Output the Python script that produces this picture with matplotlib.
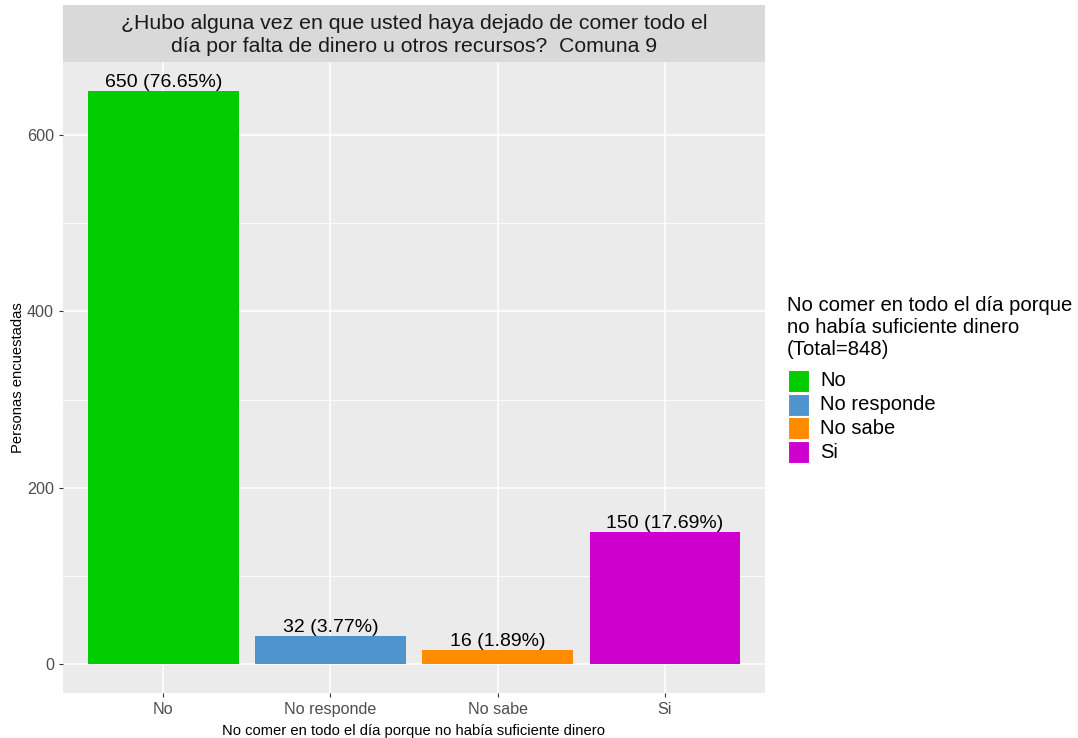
import matplotlib
matplotlib.use("Agg")
import matplotlib.pyplot as plt
from matplotlib.patches import Rectangle

plt.rcParams['font.family'] = ['Liberation Sans', 'DejaVu Sans']

categories = ["No", "No responde", "No sabe", "Si"]
counts = [650, 32, 16, 150]
labels = ["650 (76.65%)", "32 (3.77%)", "16 (1.89%)", "150 (17.69%)"]
colors = ["#00CC00", "#4F94CD", "#FF8C00", "#CD00CD"]
yticks = [0, 200, 400, 600]
minor_ticks = [100, 300, 500]

W, H = 1078, 738
fig = plt.figure(figsize=(W/100, H/100), dpi=100)
left, right, top, bottom = 63, 765, 62, 693
ax = fig.add_axes([left/W, 1-bottom/H, (right-left)/W, (bottom-top)/H])
ax.set_facecolor("#EBEBEB")
for s in ax.spines.values():
    s.set_visible(False)

x = list(range(1, len(categories)+1))
ymax = max(counts)
ax.set_xlim(0.4, len(categories)+0.6)
ax.set_ylim(-0.05*ymax, 1.05*ymax)

for v in minor_ticks:
    ax.axhline(v, color="white", lw=0.6, zorder=0)
for v in yticks:
    ax.axhline(v, color="white", lw=1.1, zorder=0)
for xi in x:
    ax.axvline(xi, color="white", lw=1.1, zorder=0)

ax.bar(x, counts, width=0.9, color=colors, zorder=2)
for xi, c, lab in zip(x, counts, labels):
    ax.text(xi, c, lab, ha="center", va="bottom", fontsize=14, color="black", zorder=3)

ax.set_xticks(x)
ax.set_xticklabels(categories, fontsize=11.6)
ax.set_yticks(yticks)
ax.set_yticklabels([str(v) for v in yticks], fontsize=11.6)
ax.tick_params(axis="both", colors="#333333", length=3, width=0.8, labelcolor="#4D4D4D")
ax.set_xlabel("No comer en todo el día porque no había suficiente dinero", fontsize=10.6, labelpad=5)
ax.set_ylabel("Personas encuestadas", fontsize=10.6, labelpad=1)

# title strip
strip = fig.add_axes([left/W, 1-top/H, (right-left)/W, (top-5)/H])
strip.set_facecolor("#D9D9D9")
strip.set_xticks([]); strip.set_yticks([])
for s in strip.spines.values():
    s.set_visible(False)
strip.text(0.5, 0.47, "¿Hubo alguna vez en que usted haya dejado de comer todo el\n"
           "día por falta de dinero u otros recursos?  Comuna 9",
           ha="center", va="center", fontsize=15.3, color="#1A1A1A", linespacing=1.25,
           transform=strip.transAxes)

# legend
fig.text(787/W, 1-296/H, "No comer en todo el día porque\nno había suficiente dinero\n(Total=848)",
         ha="left", va="top", fontsize=14.6, color="black", linespacing=1.2)
ky = 370
for col, cat in zip(colors, categories):
    fig.patches.append(Rectangle((788/W, 1-(ky+22)/H), 21/W, 22/H, transform=fig.transFigure,
                                 facecolor=col, edgecolor="white", lw=0.8))
    fig.text(820/W, 1-(ky+11)/H, cat, ha="left", va="center", fontsize=14.5, color="black")
    ky += 23.7

fig.savefig("out.png", dpi=100)
